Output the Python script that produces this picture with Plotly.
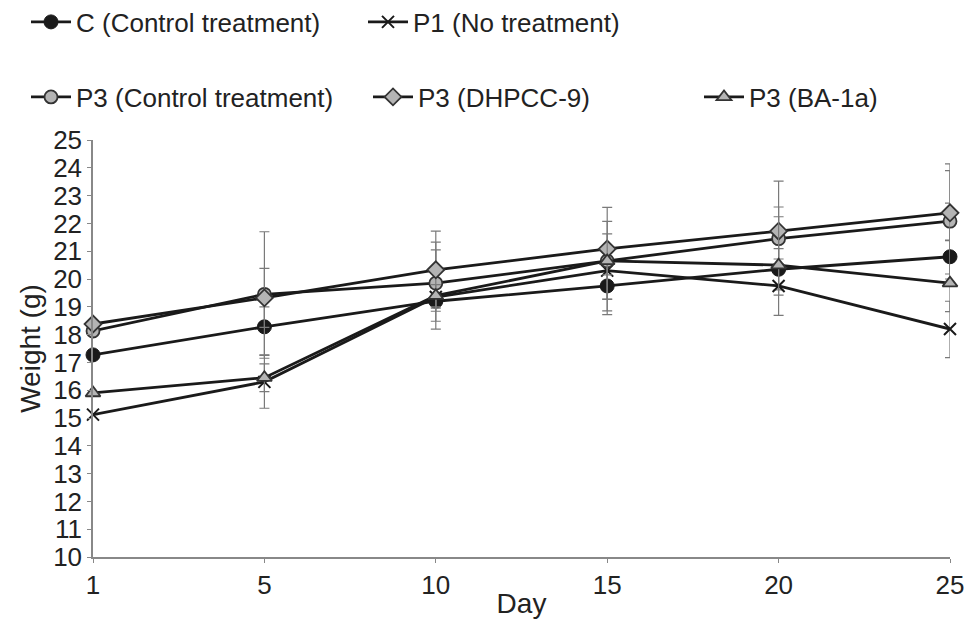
import plotly.graph_objects as go

days = ["1", "5", "10", "15", "20", "25"]

c_ctrl = [17.27, 18.28, 19.2, 19.75, 20.35, 20.8]
p1_none = [15.12, 16.3, 19.35, 20.3, 19.75, 18.2]
p3_ctrl = [18.13, 19.45, 19.85, 20.65, 21.45, 22.08]
p3_dhpcc = [18.38, 19.32, 20.33, 21.08, 21.72, 22.38]
p3_ba = [15.9, 16.45, 19.4, 20.65, 20.5, 19.85]

c_up = [0, 0.72, 1.85, 0.9, 0.74, 1.93]
c_dn = [0, 1.01, 1.0, 0.9, 0.74, 0.8]
p1_up = [0, 0.95, 0.4, 1.32, 0.8, 1.0]
p1_dn = [0, 0.95, 0.4, 1.58, 1.06, 1.03]
p3c_up = [0, 2.25, 1.48, 0.5, 1.14, 1.82]
p3c_dn = [0, 2.3, 1.37, 0.5, 1.0, 1.9]
dh_up = [0, 1.06, 1.39, 1.5, 1.8, 1.76]
dh_dn = [0, 1.06, 1.49, 1.8, 1.0, 1.0]
ba_up = [0, 0.5, 0.4, 1.42, 1.74, 1.55]
ba_dn = [0, 0.5, 0.4, 1.38, 1.08, 1.02]

names = ["C (Control treatment)", "P1 (No treatment)",
         "P3 (Control treatment)", "P3 (DHPCC-9)", "P3 (BA-1a)"]

LINE = "#1a1a1a"
GREY = "#b4b4b4"
ERR = "#7a7a7a"
TXT = "#222"

series = [
    (names[0], c_ctrl, c_up, c_dn, dict(symbol="circle", size=14, color=LINE, line=dict(color=LINE, width=1)), "legend"),
    (names[1], p1_none, p1_up, p1_dn, dict(symbol="x-thin", size=12, color=LINE, line=dict(color=LINE, width=2)), "legend"),
    (names[2], p3_ctrl, p3c_up, p3c_dn, dict(symbol="circle", size=13, color=GREY, line=dict(color="#333", width=1.8)), "legend2"),
    (names[3], p3_dhpcc, dh_up, dh_dn, dict(symbol="diamond", size=13, color=GREY, line=dict(color="#333", width=1.8)), "legend2"),
    (names[4], p3_ba, ba_up, ba_dn, dict(symbol="triangle-up", size=13, color=GREY, line=dict(color="#333", width=1.8)), "legend3"),
]

fig = go.Figure()
for name, ys, up, dn, mk, lg in series:
    fig.add_trace(go.Scatter(
        x=days, y=ys, name=name, mode="lines+markers",
        line=dict(color=LINE, width=2.8),
        marker=mk, cliponaxis=False,
        error_y=dict(type="data", array=up, arrayminus=dn, symmetric=False,
                     color=ERR, thickness=1.2, width=5),
        legend=lg,
    ))

FONT = "Liberation Sans, Arial, sans-serif"
L, T, W, H = 93, 140, 857, 417


def px_x(p):
    return (p - L) / W


def px_y(p):
    return 1 + (T - p) / H


def leg(x, y, ew):
    return dict(orientation="h", xanchor="left", yanchor="middle",
                x=px_x(x), y=px_y(y),
                font=dict(size=26, family=FONT, color=TXT),
                entrywidth=ew, entrywidthmode="pixels", itemwidth=40,
                bgcolor="rgba(0,0,0,0)")


fig.update_layout(
    width=973, height=619,
    margin=dict(l=L, r=973 - L - W, t=T, b=619 - T - H, autoexpand=False),
    paper_bgcolor="white", plot_bgcolor="white",
    font=dict(family=FONT, color=TXT),
    legend=leg(26, 22, 282),
    legend2=leg(26, 97, 287),
    legend3=leg(699, 97, 200),
    xaxis=dict(type="category", range=[0, 5], showline=True, linecolor="#888",
               linewidth=1.5, ticks="outside", ticklen=4, tickcolor="#888",
               showgrid=False, zeroline=False, automargin=False,
               tickfont=dict(size=26, family=FONT, color=TXT),
               title=dict(text="Day", font=dict(size=28, family=FONT, color=TXT), standoff=0)),
    yaxis=dict(range=[10, 25], dtick=1, showline=True, linecolor="#888",
               linewidth=1.5, ticks="outside", ticklen=4, tickcolor="#888",
               showgrid=False, zeroline=False, automargin=False,
               tickfont=dict(size=26, family=FONT, color=TXT),
               title=dict(text="Weight (g)", font=dict(size=28, family=FONT, color=TXT), standoff=4)),
)

fig.write_html("out.html", config={"displayModeBar": False},
               post_script="document.body.style.margin='0';")
